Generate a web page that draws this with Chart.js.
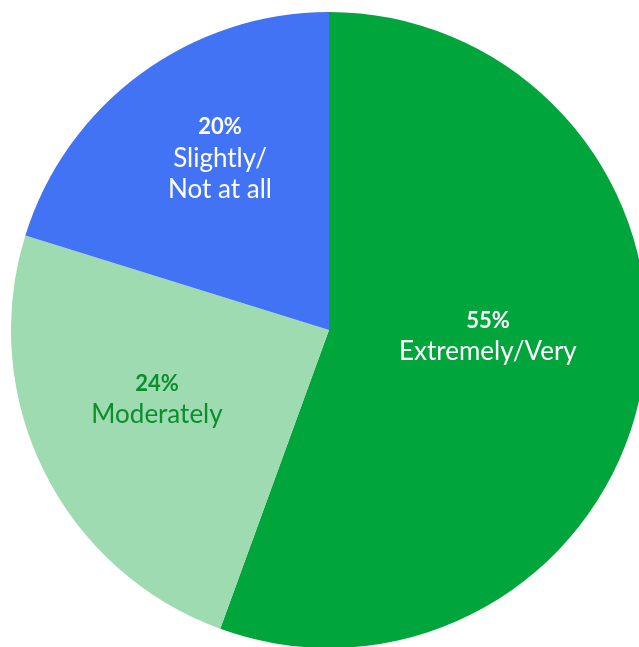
<!DOCTYPE html>
<html>
  <head>
    <meta charset="UTF-8" />
    <title>Pie chart</title>
    <style>
      html,
      body {
        margin: 0;
        padding: 0;
        background: #ffffff;
        overflow: hidden;
        width: 639px;
        height: 647px;
      }

      #wrap {
        position: absolute;
        left: 11px;
        top: 12px;
        width: 636px;
        height: 636px;
      }
    </style>
  </head>

  <body>
    <div id="wrap">
      <canvas id="chart" width="636" height="636"></canvas>
    </div>

    <script src="https://cdn.jsdelivr.net/npm/chart.js"></script>

    <script>
      // data
      const categories = ["Extremely/Very", "Moderately", "Slightly/\nNot at all"];
      const shares = [55, 24, 20];
      const shareLabels = ["55%", "24%", "20%"];

      const sliceColors = ["#00a53c", "#9edbb0", "#4373f5"];
      const textColors = ["#ffffff", "#0a8f2c", "#ffffff"];

      // draws the percentage + category text inside each slice
      const sliceLabels = {
        id: "sliceLabels",
        afterDatasetsDraw(chart, args, opts) {
          const ctx = chart.ctx;
          const arcs = chart.getDatasetMeta(0).data;
          arcs.forEach((arc, i) => {
            const mid = (arc.startAngle + arc.endAngle) / 2 + (opts.shift[i] * Math.PI) / 180;
            const r = arc.outerRadius * opts.radius[i];
            const x = arc.x + Math.cos(mid) * r;
            const y = arc.y + Math.sin(mid) * r;
            const lines = [shareLabels[i]].concat(categories[i].split("\n"));
            const step = 31;

            ctx.save();
            ctx.fillStyle = textColors[i];
            ctx.textAlign = "center";
            ctx.textBaseline = "alphabetic";
            lines.forEach((line, j) => {
              const size = j === 0 ? 22 : 26;
              ctx.font = (j === 0 ? "bold " : "") + size + "px Lato";
              // y is the cap-height middle of the block
              const capMid = y + (j - (lines.length - 1) / 2) * step;
              ctx.fillText(line, x, capMid + size * 0.358);
            });
            ctx.restore();
          });
        },
      };

      const ctx = document.getElementById("chart").getContext("2d");

      const chart = new Chart(ctx, {
        type: "pie",
        data: {
          labels: categories,
          datasets: [
            {
              data: shares,
              backgroundColor: sliceColors,
              borderWidth: 0,
            },
          ],
        },
        options: {
          responsive: false,
          animation: false,
          layout: { padding: 0 },
          plugins: {
            legend: { display: false },
            tooltip: { enabled: false },
            sliceLabels: {
              radius: [0.5, 0.582, 0.642],
              shift: [-8, 4.7, 4.1],
            },
          },
        },
        plugins: [sliceLabels],
      });
    </script>
  </body>
</html>
